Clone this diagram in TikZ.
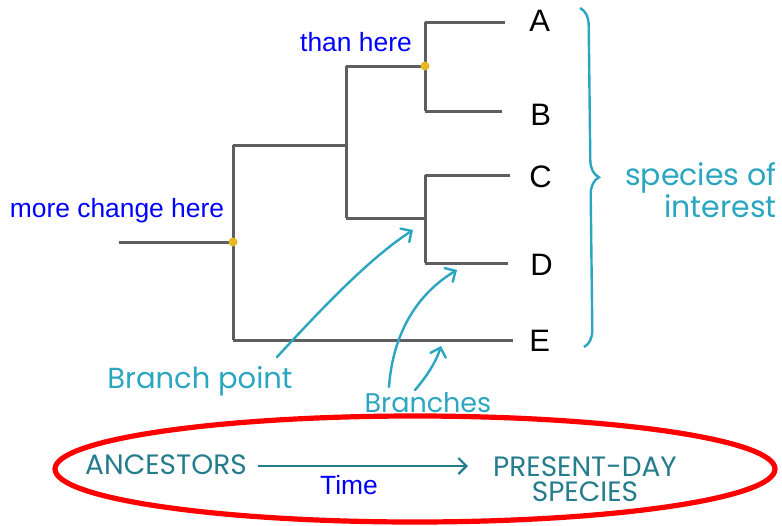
\documentclass[tikz,border=0pt]{standalone}
\usepackage{fontspec}
\setmainfont{Liberation Sans}
\newfontfamily\handfont{Poppins}
\usetikzlibrary{arrows.meta,decorations.pathreplacing,positioning}

\definecolor{treegray}{HTML}{5E5E5E}
\definecolor{noteteal}{HTML}{2AA6C1}
\definecolor{darkteal}{HTML}{257C8C}
\definecolor{knotgold}{HTML}{E8B923}

\begin{document}
\begin{tikzpicture}[x=0.5pt,y=-0.5pt]
    \tikzset{
        branch/.style={treegray, line width=1.5pt},
        tip/.style={font=\fontsize{15.5}{16}\selectfont, anchor=west, inner sep=0pt},
        bluenote/.style={blue, font=\fontsize{13.2}{14}\selectfont, inner sep=0pt},
        hand/.style={noteteal, font=\handfont\fontsize{14.5}{11.5}\selectfont, inner sep=0pt},
        bighand/.style={darkteal, font=\handfont\fontsize{14}{12.6}\selectfont, inner sep=0pt},
        pointer/.style={noteteal, line width=1.2pt, line cap=round,
            -{Straight Barb[length=4pt,width=8pt,line cap=round]}},
        knot/.style={circle, fill=knotgold, inner sep=0pt, minimum size=4.5pt}
    }
    \useasboundingbox (0,0) rectangle (782,525);

    % tree skeleton
    \coordinate (stem) at (119,242);
    \coordinate (root) at (233,242);
    \coordinate (root up) at (233,145);
    \coordinate (root dn) at (233,340);
    \coordinate (mid) at (346,145);
    \coordinate (mid up) at (346,66);
    \coordinate (mid dn) at (346,218);
    \coordinate (ab) at (425,66);
    \coordinate (ab up) at (425,22);
    \coordinate (ab dn) at (425,111);
    \coordinate (cd) at (425,218);
    \coordinate (cd up) at (425,175);
    \coordinate (cd dn) at (425,263);
    \coordinate (endA) at (505,22);
    \coordinate (endB) at (502,111);
    \coordinate (endC) at (510,175);
    \coordinate (endD) at (508,263);
    \coordinate (endE) at (513,340);

    \draw[branch] (stem) -- (root);
    \draw[branch] (root up) -- (root dn);
    \draw[branch] (root up) -- (mid);
    \draw[branch] (mid up) -- (mid dn);
    \draw[branch] (mid up) -- (ab);
    \draw[branch] (ab up) -- (ab dn);
    \draw[branch] (mid dn) -- (cd);
    \draw[branch] (cd up) -- (cd dn);
    \draw[branch] (ab up) -- (endA);
    \draw[branch] (ab dn) -- (endB);
    \draw[branch] (cd up) -- (endC);
    \draw[branch] (cd dn) -- (endD);
    \draw[branch] (root dn) -- (endE);

    \node[knot] (knot root) at (root) {};
    \node[knot] (knot ab) at (ab) {};

    % species labels
    \node[tip] (A) at (529,21) {A};
    \node[tip] (B) at (530,115) {B};
    \node[tip] (C) at (529,177) {C};
    \node[tip] (D) at (530,265) {D};
    \node[tip] (E) at (529,341) {E};

    \node[bluenote] (than) at (356,42) {than here};
    \node[bluenote] (more) at (117,211) {more change here};

    % brace
    \coordinate (brace top) at (580,8);
    \coordinate (brace bot) at (584,347);
    \draw[noteteal, line width=1.2pt, decorate,
        decoration={brace, amplitude=8.5pt}] (brace top) -- (brace bot);
    \node[hand, anchor=east, align=right, font=\handfont\fontsize{15}{13}\selectfont]
        (interest) at (777,190) {species of\\interest};

    % pointers
    \coordinate (bp tail) at (277,357);
    \coordinate (bp head) at (413,230);
    \coordinate (br tail1) at (389,387);
    \coordinate (br head1) at (457,270);
    \coordinate (br tail2) at (415,390);
    \coordinate (br head2) at (441,346);
    \node[hand] (bp) at (200,381) {Branch point};
    \node[hand, font=\handfont\fontsize{13.5}{11}\selectfont] (br) at (428,403) {Branches};
    \draw[pointer] (bp tail) .. controls (325,305) and (370,258) .. (bp head);
    \draw[pointer] (br tail1) .. controls (393,330) and (420,292) .. (br head1);
    \draw[pointer] (br tail2) .. controls (427,376) and (436,362) .. (br head2);

    % time line
    \draw[red, line width=2.6pt] (415,469) ellipse [x radius=360, y radius=53];
    \node[bighand] (anc) at (166,465) {ANCESTORS};
    \node[bighand, align=center] (pres) at (585,479) {PRESENT-DAY\\SPECIES};
    \coordinate (time tail) at (258,466);
    \coordinate (time head) at (468,466);
    \draw[darkteal, line width=1.1pt, -{Straight Barb[length=4pt,width=8pt]}]
        (time tail) -- (time head);
    \node[bluenote] (time) at (349,485) {Time};
\end{tikzpicture}
\end{document}
